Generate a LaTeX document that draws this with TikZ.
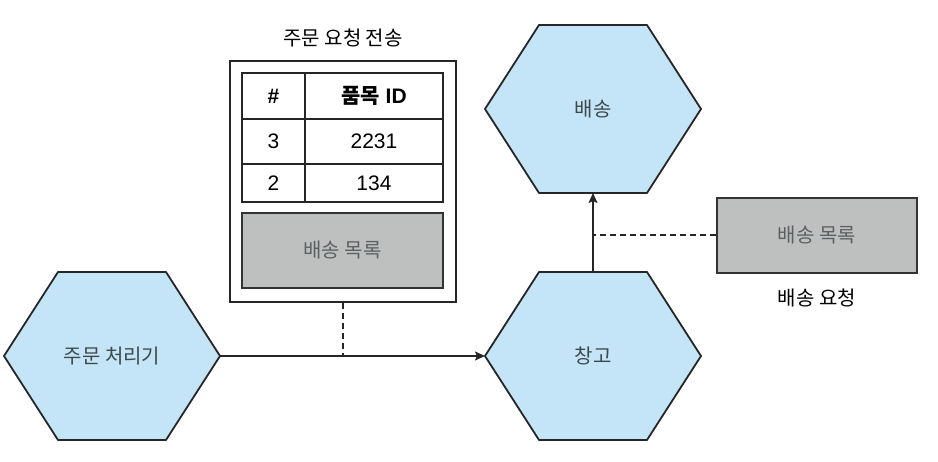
\documentclass[tikz,border=0pt]{standalone}
\usepackage{fontspec}
\setmainfont{Liberation Sans}
\newfontfamily\kr{Noto Sans CJK KR}
\usepackage{tikz}
\usetikzlibrary{arrows.meta, calc}
\definecolor{hexBlue}{RGB}{196, 229, 248}
\definecolor{boxGray}{RGB}{190, 192, 192}
\definecolor{hexText}{RGB}{62, 72, 74}
\definecolor{grayText}{RGB}{92, 96, 98}

% hexagon with named corners: name, centre, text
\newcommand{\hexnode}[3]{%
  \draw[hexa] (#2) ++(-108,0) -- ++(54,-84) -- ++(108,0) -- ++(54,84)
    -- ++(-54,84) -- ++(-108,0) -- cycle;
  \coordinate (#1-w) at ($(#2)+(-108,0)$);
  \coordinate (#1-e) at ($(#2)+(108,0)$);
  \coordinate (#1-n) at ($(#2)+(0,-84)$);
  \coordinate (#1-s) at ($(#2)+(0,84)$);
  \node[hextext] (#1) at (#2) {#3};
}

\begin{document}
\begin{tikzpicture}[x=1pt, y=-1pt,
    hexa/.style={draw=black!85, fill=hexBlue, line width=1.8pt, line join=round},
    hextext/.style={font=\kr\fontsize{20}{24}\selectfont, text=hexText},
    krtext/.style={font=\kr\fontsize{20}{24}\selectfont},
    tbl/.style={line width=1.8pt, draw=black!85},
    cell/.style={font=\fontsize{21}{25}\selectfont},
    listbox/.style={draw=black!80, fill=boxGray, line width=1.8pt,
      font=\kr\fontsize{20}{24}\selectfont, text=grayText},
    flow/.style={line width=1.6pt, draw=black!85, -{Stealth[length=10pt, width=9pt, inset=2pt]}},
    link/.style={line width=2pt, draw=black!85, dash pattern=on 6pt off 4pt}]
  \useasboundingbox (0,0) rectangle (938,462);

  \hexnode{proc}{112,356}{주문 처리기}
  \hexnode{depot}{593,356}{창고}
  \hexnode{ship}{593,109}{배송}

  % order request message
  \node[krtext] (ordertitle) at (343,38) {주문 요청 전송};
  \node[draw=black!85, line width=2pt, minimum width=226pt, minimum height=241pt] (order) at (343,181.5) {};
  \draw[tbl] (242,73) rectangle (443,202);
  \foreach \y in {119,164}
    \draw[tbl] (242,\y) -- (443,\y);
  \draw[tbl] (305,73) -- (305,202);
  \node[cell] (hnum) at (273.5,96) {\bfseries\#};
  \node[cell] (hitem) at (374,96) {\bfseries{\kr 품목} ID};
  \foreach \n/\id/\y [count=\i] in {3/2231/141.5, 2/134/183} {
    \node[cell] (num\i) at (273.5,\y) {\n};
    \node[cell] (item\i) at (374,\y) {\id};
  }
  \node[listbox, minimum width=201pt, minimum height=75pt] (orderlist) at (342.5,250.5) {배송 목록};

  % shipping request message
  \node[listbox, minimum width=200pt, minimum height=75pt] (shiplist) at (817,235.5) {배송 목록};
  \node[krtext] (shipreq) at (817,298) {배송 요청};

  \draw[flow] (proc-e) -- (depot-w);
  \draw[flow] (depot-n) -- (ship-s);
  \draw[link] (order.south) -- (order.south |- proc-e);
  \draw[link] (shiplist.west) -- (shiplist.west -| depot-n);
\end{tikzpicture}
\end{document}
